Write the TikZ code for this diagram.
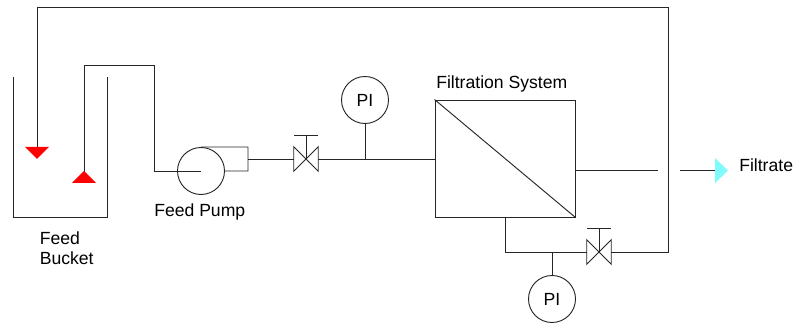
\documentclass[tikz,border=0pt]{standalone}
\usepackage{fontspec}
\setmainfont{Liberation Sans}
\usetikzlibrary{positioning}
\definecolor{filtratecyan}{HTML}{7FFBFB}

\begin{document}
\begin{tikzpicture}[
    x=0.75pt, y=-0.75pt,
    every node/.style={font=\fontsize{13.2}{15}\selectfont, inner sep=0pt},
    pipe/.style={draw=black!85, line width=0.7pt},
    dial/.style={draw=black!85, line width=0.7pt, circle, minimum size=35.25pt},
    valve/.style={minimum width=18pt, minimum height=18pt},
    filterbox/.style={draw=black!85, line width=0.7pt, minimum width=105pt, minimum height=87.75pt},
    label/.style={anchor=west, align=left}
]
\useasboundingbox (0,0) rectangle (795,323);

\node[filterbox] (filter) at (505,158.5) {};
\node[dial] (pump) at (201,171) {};
\node[dial] (pifeed) at (365,100) {PI};
\node[dial] (pireject) at (552,299) {PI};
\node[valve] (feedvalve) at (306,159) {};
\node[valve] (rejectvalve) at (599,252) {};

\node[label] (bucketlabel) at (39.5,248) {Feed\\Bucket};
\node[label] (pumplabel) at (154,212) {Feed Pump};
\node[label] (filterlabel) at (436,83.5) {Filtration System};
\node[label] (filtratelabel) at (739,165.5) {Filtrate};

\coordinate (rejectcorner) at (505,252);
\coordinate (filtrateend) at (658,170.5);
\coordinate (filtratestart) at (680,170.5);
\coordinate (filtratetip) at (715,170.5);
\coordinate (returnbottom) at (668,252);
\coordinate (returntop) at (668,7);
\coordinate (returnleft) at (37,7);
\coordinate (returntip) at (37,147);
\coordinate (feedtip) at (84,183);
\coordinate (feedtop) at (84,65);
\coordinate (feeddrop) at (154,65);
\coordinate (pumpinlet) at (154,171);

% bucket
\draw[pipe] (13,77) -- (13,217) -- (107,217) -- (107,77);

% suction and return lines
\draw[pipe] (feedtip) -- (feedtop) -- (feeddrop) -- (pumpinlet) -- (pump.center);
\draw[pipe] (rejectvalve.east) -- (returnbottom) -- (returntop) -- (returnleft) -- (returntip);
\fill[red] (25,147) -- (49,147) -- (37,159) -- cycle;
\fill[red] (72,183) -- (96,183) -- (84,171) -- cycle;

% pump casing
\draw[pipe] (pump.north) -- (248,147) -- (248,171) -- (pump.east);
\draw[pipe] (248,159) -- (feedvalve.west);

% valves
\foreach \v in {feedvalve,rejectvalve} {
    \draw[pipe] (\v.south west) -- (\v.north east) -- (\v.south east) -- (\v.north west) -- cycle;
    \draw[pipe] (\v.center) -- ++(0,-23.5) coordinate (\v top);
    \draw[pipe] ([xshift=-9pt]\v top) -- ([xshift=9pt]\v top);
}

% process lines
\draw[pipe] (feedvalve.east) -- (filter.west |- feedvalve.east);
\draw[pipe] (pifeed.south) -- (pifeed.south |- feedvalve.east);
\draw[pipe] (filter.north west) -- (filter.south east);
\draw[pipe] (rejectcorner |- filter.south) -- (rejectcorner) -- (rejectvalve.west);
\draw[pipe] (pireject.north) -- (pireject.north |- rejectcorner);
\draw[pipe] (filter.east |- filtrateend) -- (filtrateend);
\draw[pipe] (filtratestart) -- (filtratetip);
\fill[filtratecyan] (715,158) -- (728,170.5) -- (715,183) -- cycle;
\end{tikzpicture}
\end{document}
